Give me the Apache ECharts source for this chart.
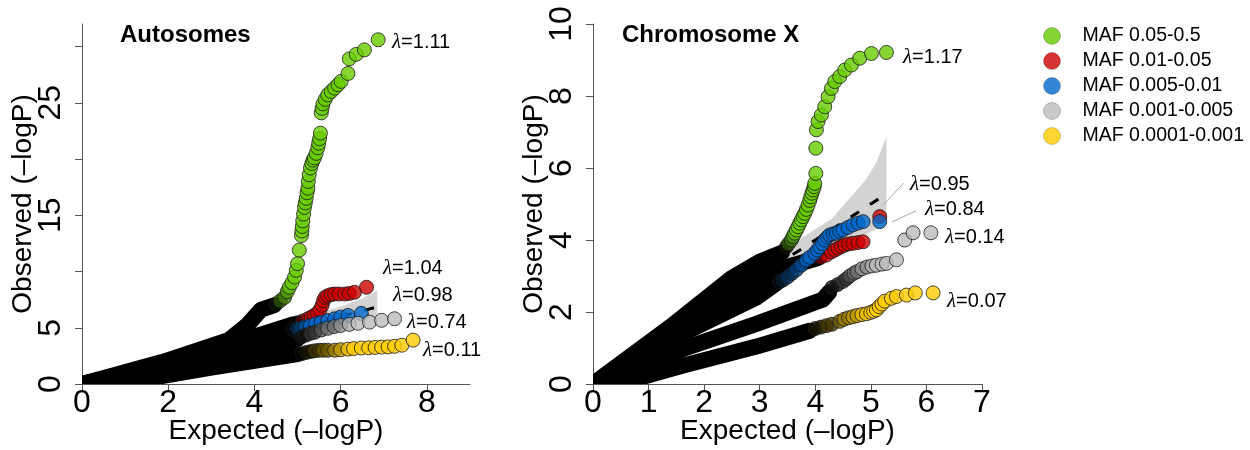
<!DOCTYPE html>
<html>
<head>
<meta charset="utf-8">
<title>QQ plots by MAF</title>
<script src="https://cdn.jsdelivr.net/npm/echarts@6.0.0/dist/echarts.min.js"></script>
<style>
  html, body { margin: 0; padding: 0; background: #fff; }
  #main { width: 1250px; height: 450px; }
</style>
</head>
<body>
<div id="main"></div>
<script>
// groups and colours
const groups = ['MAF 0.05-0.5', 'MAF 0.01-0.05', 'MAF 0.005-0.01', 'MAF 0.001-0.005', 'MAF 0.0001-0.001'];
const colors = ['#66CC00', '#CC0000', '#0066CC', '#BBBBBB', '#FFCC00'];

// ---- Autosomes: [expected, observed] ----
// black body of each curve (dense points) and the coloured tail
const autoGreenBody = [[0, 0], [1.9, 2.0], [3.4, 3.9], [3.85, 5.3], [4.15, 6.6], [4.46, 7.0]];
const autoGreenTail = [[4.5, 7.1], [4.6, 7.4], [4.7, 7.7], [4.76, 8.2], [4.81, 8.6], [4.87, 9.0], [4.93, 9.5],
  [4.97, 10.1], [5.0, 10.7], [5.04, 11.9], [5.09, 13.2], [5.1, 13.6], [5.11, 14.0], [5.12, 14.5], [5.14, 15.1],
  [5.16, 15.7], [5.18, 16.1], [5.2, 16.5], [5.22, 17.0], [5.24, 17.4], [5.25, 18.0], [5.27, 18.6], [5.3, 19.2],
  [5.33, 19.6], [5.36, 19.9], [5.39, 20.1], [5.43, 20.5], [5.47, 21.0], [5.49, 21.4], [5.51, 21.8], [5.53, 22.3],
  [5.55, 24.1], [5.57, 24.5], [5.59, 24.9], [5.64, 25.3], [5.7, 25.7], [5.78, 26.0], [5.86, 26.3], [5.94, 26.6],
  [6.01, 26.9], [6.17, 27.6], [6.2, 28.9], [6.36, 29.3], [6.55, 29.7], [6.87, 30.6]];
const autoRedBody = [[0, 0], [2.0, 1.9], [4.0, 4.2], [4.9, 5.3]];
const autoRedTail = [[5.0, 5.45], [5.12, 5.6], [5.24, 5.8], [5.32, 5.95], [5.39, 6.1], [5.46, 6.3], [5.52, 6.6],
  [5.57, 7.0], [5.6, 7.4], [5.64, 7.7], [5.7, 7.85], [5.78, 7.95], [5.86, 8.0], [5.96, 8.0], [6.1, 8.0],
  [6.2, 8.05], [6.32, 8.15], [6.6, 8.6]];
const autoBlueBody = [[0, 0], [2.0, 1.8], [4.0, 3.9], [4.8, 4.75]];
const autoBlueTail = [[4.9, 4.85], [5.0, 4.92], [5.08, 4.98], [5.18, 5.08], [5.3, 5.2], [5.42, 5.35], [5.55, 5.5],
  [5.7, 5.65], [5.86, 5.8], [6.0, 5.95], [6.17, 6.1], [6.48, 6.28]];
const autoGrayBody = [[0, 0], [2.0, 1.45], [3.5, 2.75], [5.0, 4.0]];
const autoGrayTail = [[5.1, 4.2], [5.2, 4.35], [5.3, 4.5], [5.4, 4.6], [5.55, 4.8], [5.7, 4.95], [5.85, 5.1],
  [6.0, 5.2], [6.2, 5.3], [6.4, 5.4], [6.67, 5.5], [6.95, 5.66], [7.25, 5.8]];
const autoYellowBody = [[0, 0], [0.8, 0.15], [1.7, 0.6], [3.0, 1.45], [4.0, 2.05], [5.0, 2.65]];
const autoYellowTail = [[5.1, 2.7], [5.2, 2.8], [5.3, 2.88], [5.4, 2.95], [5.5, 3.0], [5.6, 3.0], [5.7, 3.0],
  [5.86, 3.0], [6.0, 3.05], [6.17, 3.1], [6.3, 3.15], [6.48, 3.2], [6.65, 3.22], [6.8, 3.25], [6.95, 3.28],
  [7.1, 3.3], [7.25, 3.35], [7.42, 3.45], [7.68, 3.9]];
const autoCiX = [5.0, 5.5, 6.0, 6.5, 6.85];
const autoCiUp = [5.7, 6.35, 6.9, 7.6, 8.3];
const autoCiLo = [4.45, 4.9, 5.3, 5.7, 6.0];
const autoDiag = [[5.0, 5.0], [6.85, 6.85]];
const autoLambda = ['1.11', '1.04', '0.98', '0.74', '0.11'];

// ---- Chromosome X ----
const xGreenBody = [[0, 0], [1.4, 1.6], [2.5, 2.95], [3.0, 3.4], [3.4, 3.65]];
const xGreenTail = [[3.48, 3.81], [3.52, 3.9], [3.57, 4.0], [3.6, 4.1], [3.63, 4.19], [3.66, 4.28], [3.69, 4.37],
  [3.72, 4.47], [3.75, 4.56], [3.78, 4.65], [3.81, 4.74], [3.84, 4.85], [3.87, 4.97], [3.9, 5.1], [3.92, 5.2],
  [3.94, 5.3], [3.96, 5.39], [3.98, 5.48], [3.99, 5.57], [4.01, 5.85], [4.01, 6.55], [4.02, 7.06], [4.05, 7.29],
  [4.11, 7.47], [4.17, 7.7], [4.23, 7.98], [4.29, 8.21], [4.35, 8.4], [4.44, 8.54], [4.53, 8.72], [4.65, 8.86],
  [4.8, 9.05], [5.01, 9.18], [5.28, 9.21]];
const xRedBody = [[0, 0], [1.8, 1.65], [3.0, 3.0], [3.6, 3.3], [4.05, 3.5]];
const xRedTail = [[4.1, 3.52], [4.2, 3.58], [4.29, 3.67], [4.35, 3.72], [4.41, 3.77], [4.47, 3.82], [4.53, 3.86],
  [4.6, 3.89], [4.68, 3.91], [4.77, 3.93], [4.86, 3.95], [5.16, 4.65]];
const xBlueBody = [[0, 0], [1.74, 1.5], [2.94, 2.4], [3.3, 2.8]];
const xBlueTail = [[3.36, 2.84], [3.42, 2.89], [3.5, 2.97], [3.58, 3.07], [3.66, 3.17], [3.75, 3.3], [3.84, 3.44],
  [3.9, 3.52], [3.99, 3.63], [4.04, 3.72], [4.08, 3.81], [4.13, 3.9], [4.17, 4.0], [4.22, 4.08], [4.26, 4.14],
  [4.32, 4.17], [4.38, 4.19], [4.44, 4.24], [4.5, 4.28], [4.59, 4.35], [4.68, 4.42], [4.77, 4.47], [4.86, 4.51],
  [5.16, 4.51]];
const xGrayBody = [[0, 0], [1.74, 1.04], [2.94, 1.67], [4.14, 2.35], [4.25, 2.55]];
const xGrayTail = [[4.3, 2.68], [4.4, 2.76], [4.5, 2.85], [4.56, 2.92], [4.62, 3.0], [4.7, 3.08], [4.75, 3.12],
  [4.84, 3.2], [4.93, 3.25], [5.02, 3.28], [5.1, 3.3], [5.2, 3.33], [5.28, 3.35], [5.46, 3.45], [5.61, 4.0],
  [5.76, 4.2], [6.08, 4.2]];
const xYellowBody = [[0, 0], [0.9, 0.2], [1.62, 0.51], [2.94, 1.04], [3.9, 1.48]];
const xYellowTail = [[4.0, 1.54], [4.1, 1.58], [4.2, 1.62], [4.3, 1.66], [4.44, 1.74], [4.52, 1.8], [4.6, 1.84],
  [4.68, 1.87], [4.75, 1.9], [4.84, 1.93], [4.92, 1.95], [5.0, 1.99], [5.05, 2.02], [5.1, 2.06], [5.15, 2.15],
  [5.2, 2.22], [5.25, 2.3], [5.37, 2.38], [5.46, 2.43], [5.64, 2.47], [5.8, 2.53], [6.12, 2.53]];
const xCiX = [2.82, 3.3, 3.7, 4.3, 4.9, 5.1, 5.28];
const xCiUp = [2.9, 3.7, 4.0, 4.6, 5.65, 6.15, 6.87];
const xCiLo = [2.75, 3.0, 3.3, 3.75, 4.15, 4.3, 4.45];
const xDiag = [[2.9, 2.9], [5.3, 5.3]];
const xLeaders = [[[5.59, 5.58], [5.22, 4.97]], [[5.81, 4.81], [5.38, 4.5]]];
const xLambda = ['1.17', '0.95', '0.84', '0.14', '0.07'];

// axis ticks and labels
const autoXTicks = [0, 2, 4, 6, 8];
const autoYTicks = [0, 5, 10, 15, 20, 25, 30];
const autoYLabels = [0, 5, 15, 25];
const xXTicks = [0, 1, 2, 3, 4, 5, 6, 7];
const xYTicks = [0, 2, 4, 6, 8, 10];

// ---- styling / layout ----
const FONT = "'Liberation Sans', Arial, Helvetica, sans-serif";
const BAND_W = 16;   // thickness of the dense black part
const DOT = 14;      // tail point diameter
const panels = [
  {
    title: 'Autosomes', titlePos: [120, 35],
    grid: { left: 82, top: 24, width: 388, height: 360, containLabel: false, outerBoundsMode: 'none' },
    xMax: 9, yMax: 32, xTicks: autoXTicks, yTicks: autoYTicks, yLabels: autoYLabels,
    bodies: [autoGreenBody, autoRedBody, autoBlueBody, autoGrayBody, autoYellowBody],
    tails: [autoGreenTail, autoRedTail, autoBlueTail, autoGrayTail, autoYellowTail],
    fades: [[4.45, 4.85], [4.95, 5.35], [4.85, 5.25], [5.1, 6.3], [5.2, 6.3]],
    ci: { x: autoCiX, up: autoCiUp, lo: autoCiLo }, diag: autoDiag, leaders: [],
    lambda: autoLambda, lambdaPos: [[392, 42], [383, 268], [393, 295], [407, 322], [423, 350]]
  },
  {
    title: 'Chromosome X', titlePos: [622, 35],
    grid: { left: 593, top: 24, width: 389, height: 360, containLabel: false, outerBoundsMode: 'none' },
    xMax: 7, yMax: 10, xTicks: xXTicks, yTicks: xYTicks, yLabels: xYTicks,
    bodies: [xGreenBody, xRedBody, xBlueBody, xGrayBody, xYellowBody],
    tails: [xGreenTail, xRedTail, xBlueTail, xGrayTail, xYellowTail],
    fades: [[3.45, 3.65], [4.0, 4.2], [3.3, 3.9], [4.3, 5.1], [4.0, 5.0]],
    ci: { x: xCiX, up: xCiUp, lo: xCiLo }, diag: xDiag, leaders: xLeaders,
    lambda: xLambda, lambdaPos: [[903, 57], [910, 184], [925, 209], [945, 237], [947, 301]]
  }
];

function mix(hex, t) {
  const n = parseInt(hex.slice(1), 16);
  const r = Math.round(((n >> 16) & 255) * t), g = Math.round(((n >> 8) & 255) * t), b = Math.round((n & 255) * t);
  return 'rgb(' + r + ',' + g + ',' + b + ')';
}
// black -> colour along the expected axis, like the dense points in the original
function fadePieces(x0, x1, hex) {
  const steps = 6;
  const pieces = [{ lt: x0, color: '#000000' }];
  for (let i = 0; i < steps; i++) {
    pieces.push({ gte: x0 + (x1 - x0) * i / steps, lt: x0 + (x1 - x0) * (i + 1) / steps, color: mix(hex, (i + 0.5) / steps) });
  }
  pieces.push({ gte: x1, color: hex });
  return pieces;
}

const axisLineStyle = { color: '#555', width: 1 };
const grids = [], xAxes = [], yAxes = [], series = [], visualMaps = [], graphics = [];

panels.forEach((p, gi) => {
  grids.push(p.grid);
  xAxes.push({
    gridIndex: gi, type: 'value', min: 0, max: p.xMax,
    name: 'Expected (–logP)', nameLocation: 'middle', nameGap: 33, nameMoveOverlap: false,
    nameTextStyle: { fontSize: 28, fontFamily: FONT, color: '#000' },
    axisLine: { show: true, onZero: false, lineStyle: axisLineStyle },
    axisTick: { show: true, length: 7, lineStyle: axisLineStyle, customValues: p.xTicks },
    axisLabel: { fontSize: 32, fontFamily: FONT, color: '#000', margin: 3, customValues: p.xTicks },
    splitLine: { show: false }
  });
  yAxes.push({
    gridIndex: gi, type: 'value', min: 0, max: p.yMax,
    name: 'Observed (–logP)', nameLocation: 'middle', nameGap: 45, nameMoveOverlap: false,
    nameTextStyle: { fontSize: 28, fontFamily: FONT, color: '#000' },
    axisLine: { show: true, onZero: false, lineStyle: axisLineStyle },
    axisTick: { show: true, length: 7, lineStyle: axisLineStyle, customValues: p.yTicks },
    axisLabel: { fontSize: 32, fontFamily: FONT, color: '#000', margin: 15, rotate: 90, customValues: p.yLabels },
    splitLine: { show: false }
  });

  // confidence band
  const ci = p.ci;
  series.push({
    type: 'custom', xAxisIndex: gi, yAxisIndex: gi, clip: true, z: 1, silent: true,
    data: ci.x.map((x, k) => [x, ci.lo[k], ci.up[k]]),
    renderItem: (params, api) => {
      if (params.dataIndex !== 0) return null;
      const up = ci.x.map((x, k) => api.coord([x, ci.up[k]]));
      const lo = ci.x.map((x, k) => api.coord([x, ci.lo[k]])).reverse();
      return { type: 'polygon', shape: { points: up.concat(lo) }, style: { fill: '#D3D3D3' } };
    }
  });
  // y = x dashed line
  series.push({
    type: 'line', xAxisIndex: gi, yAxisIndex: gi, data: p.diag, symbol: 'none', z: 2, silent: true,
    lineStyle: { color: '#000', width: 3, type: [10, 13] }
  });
  p.leaders.forEach(seg => series.push({
    type: 'line', xAxisIndex: gi, yAxisIndex: gi, data: seg, symbol: 'none', z: 2, silent: true,
    lineStyle: { color: '#AAAAAA', width: 1 }
  }));
  // dense black bodies
  p.bodies.forEach(pts => series.push({
    type: 'custom', xAxisIndex: gi, yAxisIndex: gi, clip: true, z: 3, silent: true, data: pts,
    renderItem: (params, api) => {
      if (params.dataIndex !== 0) return null;
      return {
        type: 'polyline', shape: { points: pts.map(pt => api.coord(pt)) },
        style: { stroke: '#000', fill: null, lineWidth: BAND_W, lineCap: 'round', lineJoin: 'round' }
      };
    }
  }));
  // coloured tails
  p.tails.forEach((pts, k) => {
    visualMaps.push({
      type: 'piecewise', show: false, dimension: 0, seriesIndex: series.length,
      pieces: fadePieces(p.fades[k][0], p.fades[k][1], colors[k])
    });
    series.push({
      type: 'scatter', name: groups[k], xAxisIndex: gi, yAxisIndex: gi, data: pts, z: 4,
      symbol: 'circle', symbolSize: DOT,
      itemStyle: { color: colors[k], borderColor: '#1A1A1A', borderWidth: 1 }
    });
  });

  graphics.push({
    type: 'text', x: p.titlePos[0], y: p.titlePos[1],
    style: { text: p.title, font: 'bold 24px ' + FONT, fill: '#000', verticalAlign: 'middle' }
  });
  p.lambda.forEach((v, k) => graphics.push({
    type: 'text', x: p.lambdaPos[k][0], y: p.lambdaPos[k][1],
    style: {
      text: '{l|λ}=' + v, fontSize: 20, fontFamily: FONT, fill: '#000', verticalAlign: 'middle',
      rich: { l: { fontSize: 21, fontFamily: "'Liberation Serif', 'DejaVu Serif', serif", fontStyle: 'italic', fill: '#000' } }
    }
  }));
});

const chart = echarts.init(document.getElementById('main'), null, { renderer: 'canvas' });
chart.setOption({
  animation: false,
  backgroundColor: '#fff',
  grid: grids,
  xAxis: xAxes,
  yAxis: yAxes,
  visualMap: visualMaps,
  legend: {
    data: groups, orient: 'vertical', left: 1038, top: 21, itemWidth: 17, itemHeight: 17, itemGap: 5,
    icon: 'circle', selectedMode: false,
    itemStyle: { borderColor: 'rgba(0,0,0,0.25)', borderWidth: 1 },
    textStyle: { fontSize: 19.5, fontFamily: FONT, color: '#000', padding: [0, 0, 0, 17] }
  },
  graphic: graphics,
  series: series
});
</script>
</body>
</html>
